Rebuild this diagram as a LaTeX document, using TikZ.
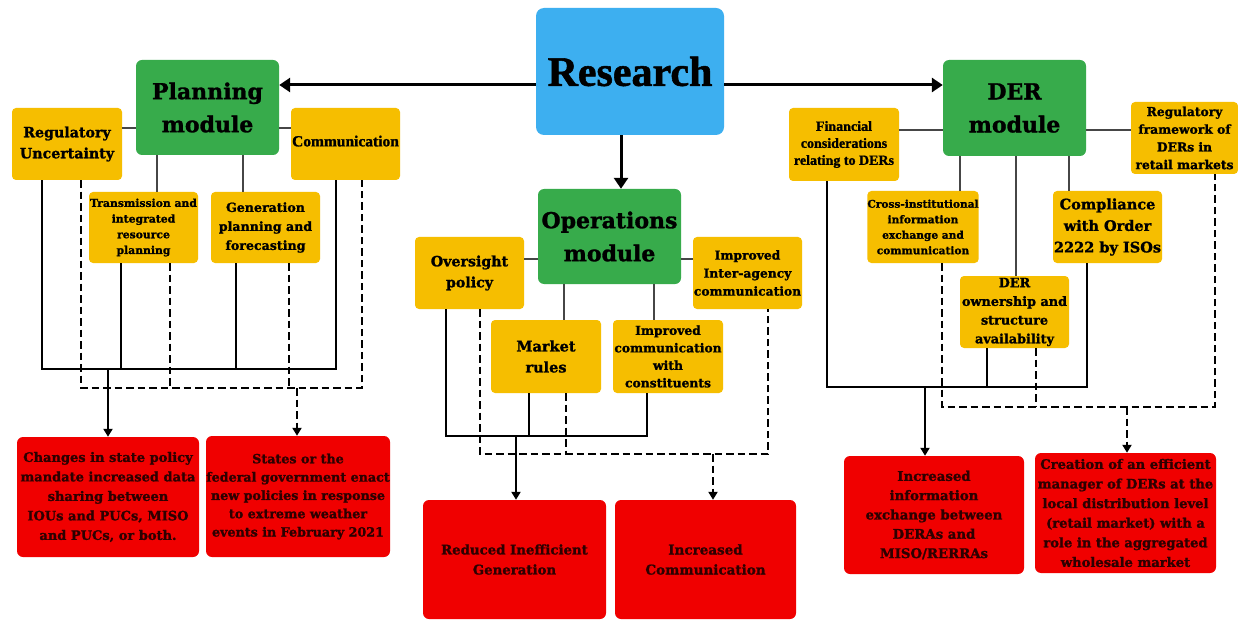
\documentclass[tikz,border=0pt]{standalone}
\usepackage{fontspec}
\setmainfont{DejaVu Serif}[BoldFeatures={FakeBold=1.3}]
\newfontfamily\tms{Liberation Serif}[BoldFeatures={FakeBold=1.3}]
\usetikzlibrary{arrows.meta}
\definecolor{yel}{RGB}{246,190,0}
\definecolor{grn}{RGB}{55,171,75}
\definecolor{blu}{RGB}{61,175,240}
\definecolor{rd}{RGB}{240,0,0}
\definecolor{rtext}{RGB}{45,0,0}
\definecolor{lnk}{RGB}{70,70,70}
\newcommand\fsz[2]{\fontsize{#1}{#2}\selectfont}
\begin{document}
\begin{tikzpicture}[x=1pt,y=-1pt,
  ybox/.style={fill=yel, rounded corners=4pt, align=center, inner sep=0pt, text=black, minimum width=109pt, minimum height=72pt},
  modbox/.style={fill=grn, rounded corners=6pt, align=center, inner sep=0pt, text=black, minimum width=143pt, minimum height=95pt, font=\bfseries\fsz{22}{33}},
  rbox/.style={fill=rd, rounded corners=6pt, align=center, inner sep=0pt, text=rtext, minimum width=182pt, minimum height=120pt},
  link/.style={draw=lnk, line width=1.3pt},
  bus/.style={draw=black, line width=2.4pt},
  dbus/.style={bus, dash pattern=on 7.5pt off 4pt},
  tip/.style={-{Triangle[length=8pt,width=9pt]}},
  big/.style={draw=black, line width=3pt, -{Triangle[length=11pt,width=14pt]}}
]
\useasboundingbox (0,0) rectangle (1238,620);
\fill[white] (0,0) rectangle (1238,620);

% ---------- main nodes
\node[fill=blu, rounded corners=8pt, minimum width=188pt, minimum height=127pt, inner sep=0pt, font=\tms\bfseries\fsz{42}{48}] (res) at (630,71.5) {Research};
\node[modbox] (plan) at (207.5,107.5) {Planning\\module};
\node[modbox, minimum height=96pt] (der) at (1014.5,108) {DER\\module};
\node[modbox] (ops) at (609.5,236.5) {Operations\\module};

% ---------- planning items
\node[ybox, minimum width=110pt, font=\bfseries\fsz{14.2}{21}] (regu) at (67,144) {Regulatory\\Uncertainty};
\node[ybox, font=\tms\bfseries\fsz{15.5}{18}] (comm) at (345.5,144) {\raisebox{6pt}{Communication}};
\node[ybox, minimum height=71pt, font=\bfseries\fsz{10.8}{15.7}] (trans) at (143.5,227.5) {Transmission and\\integrated\\resource\\planning};
\node[ybox, minimum height=71pt, font=\bfseries\fsz{12.6}{19}] (gen) at (265.5,227.5) {Generation\\planning and\\forecasting};

% ---------- operations items
\node[ybox, font=\bfseries\fsz{14.2}{21}] (over) at (469.5,273) {Oversight\\policy};
\node[ybox, font=\bfseries\fsz{12.3}{18}] (inter) at (747.5,273) {Improved\\Inter-agency\\communication};
\node[ybox, minimum width=110pt, minimum height=73pt, font=\bfseries\fsz{14.5}{21}] (mkt) at (546,356.5) {Market\\rules};
\node[ybox, minimum width=110pt, minimum height=73pt, font=\bfseries\fsz{12.3}{17.5}] (const) at (668,356.5) {Improved\\communication\\with\\constituents};

% ---------- DER items
\node[ybox, minimum width=110pt, minimum height=73pt, font=\tms\bfseries\fsz{14}{17}] (fin) at (844,144.5) {Financial\\considerations\\relating to DERs};
\node[ybox, minimum width=107pt, font=\bfseries\fsz{12.3}{17.7}] (regfw) at (1184.5,138) {Regulatory\\framework of\\DERs in\\retail markets};
\node[ybox, minimum width=110pt, font=\bfseries\fsz{10.6}{15.5}] (cross) at (923,227) {Cross-institutional\\information\\exchange and\\communication};
\node[ybox, font=\bfseries\fsz{14.5}{21.5}] (compl) at (1107.5,227) {Compliance\\with Order\\2222 by ISOs};
\node[ybox, font=\bfseries\fsz{12.8}{18.7}] (own) at (1014.5,312) {DER\\ownership and\\structure\\availability};

% ---------- outcomes
\node[rbox, font=\bfseries\fsz{13}{19.5}] (o1) at (108,497) {Changes in state policy\\mandate increased data\\sharing between\\IOUs and PUCs, MISO\\and PUCs, or both.};
\node[rbox, minimum width=184pt, minimum height=121pt, font=\bfseries\fsz{12.7}{18.3}] (o2) at (298,496.5) {States or the\\federal government enact\\new policies in response\\to extreme weather\\events in February 2021};
\node[rbox, minimum width=183pt, minimum height=119pt, font=\bfseries\fsz{13.3}{20}] (o3) at (514.5,559.5) {Reduced Inefficient\\Generation};
\node[rbox, minimum width=181pt, minimum height=119pt, font=\bfseries\fsz{13.5}{20}] (o4) at (705.5,559.5) {Increased\\Communication};
\node[rbox, minimum width=180pt, minimum height=118pt, font=\bfseries\fsz{13.3}{19.3}] (o5) at (934,515) {Increased\\information\\exchange between\\DERAs and\\MISO/RERRAs};
\node[rbox, minimum width=181pt, minimum height=120pt, font=\bfseries\fsz{13.1}{19.6}] (o6) at (1125.5,513) {Creation of an efficient\\manager of DERs at the\\local distribution level\\(retail market) with a\\role in the aggregated\\wholesale market};

% ---------- research arrows
\coordinate (rA) at (0,85);
\coordinate (rB) at (621,0);
\draw[big] (res.west |- rA) -- (plan.east |- rA);
\draw[big] (res.east |- rA) -- (der.west |- rA);
\draw[big] (res.south -| rB) -- (ops.north -| rB);

% ---------- planning links
\coordinate (pH) at (0,128);
\coordinate (pV1) at (157,0);
\coordinate (pV2) at (243,0);
\draw[link] (regu.east |- pH) -- (plan.west |- pH);
\draw[link] (plan.east |- pH) -- (comm.west |- pH);
\draw[link] (plan.south -| pV1) -- (trans.north -| pV1);
\draw[link] (plan.south -| pV2) -- (gen.north -| pV2);
\coordinate (pS1) at (42,369);  \coordinate (pS2) at (121,369);
\coordinate (pS3) at (236,369); \coordinate (pS4) at (336,369);
\coordinate (pSo) at (108,369);
\coordinate (pD1) at (81,388);  \coordinate (pD2) at (170,388);
\coordinate (pD3) at (289,388); \coordinate (pD4) at (362,388);
\coordinate (pDo) at (297,388);
\draw[bus] (regu.south -| pS1) -- (pS1) -- (pS4) -- (comm.south -| pS4);
\draw[bus] (trans.south -| pS2) -- (pS2);
\draw[bus] (gen.south -| pS3) -- (pS3);
\draw[bus,tip] (pSo) -- (o1.north -| pSo);
\draw[dbus] (regu.south -| pD1) -- (pD1) -- (pD4) -- (comm.south -| pD4);
\draw[dbus] (trans.south -| pD2) -- (pD2);
\draw[dbus] (gen.south -| pD3) -- (pD3);
\draw[dbus,tip] (pDo) -- (o2.north -| pDo);

% ---------- operations links
\coordinate (oH) at (0,259);
\coordinate (oV1) at (564,0);
\coordinate (oV2) at (654,0);
\draw[link] (over.east |- oH) -- (ops.west |- oH);
\draw[link] (ops.east |- oH) -- (inter.west |- oH);
\draw[link] (ops.south -| oV1) -- (mkt.north -| oV1);
\draw[link] (ops.south -| oV2) -- (const.north -| oV2);
\coordinate (oS1) at (446,436); \coordinate (oS2) at (529,436);
\coordinate (oS3) at (647,436); \coordinate (oSo) at (516,436);
\coordinate (oD1) at (480,454); \coordinate (oD2) at (566,454);
\coordinate (oD3) at (768,454); \coordinate (oDo) at (713,454);
\draw[bus] (over.south -| oS1) -- (oS1) -- (oS3) -- (const.south -| oS3);
\draw[bus] (mkt.south -| oS2) -- (oS2);
\draw[bus,tip] (oSo) -- (o3.north -| oSo);
\draw[dbus] (over.south -| oD1) -- (oD1) -- (oD3) -- (inter.south -| oD3);
\draw[dbus] (mkt.south -| oD2) -- (oD2);
\draw[dbus,tip] (oDo) -- (o4.north -| oDo);

% ---------- DER links
\coordinate (dH) at (0,130);
\coordinate (dV1) at (960,0);
\coordinate (dV2) at (1016,0);
\coordinate (dV3) at (1069,0);
\draw[link] (fin.east |- dH) -- (der.west |- dH);
\draw[link] (der.east |- dH) -- (regfw.west |- dH);
\draw[link] (der.south -| dV1) -- (cross.north -| dV1);
\draw[link] (der.south -| dV2) -- (own.north -| dV2);
\draw[link] (der.south -| dV3) -- (compl.north -| dV3);
\coordinate (dS1) at (827,387); \coordinate (dS2) at (987,387);
\coordinate (dS3) at (1087,387); \coordinate (dSo) at (925,387);
\coordinate (dD1) at (942,407); \coordinate (dD2) at (1036,407);
\coordinate (dD3) at (1215,407); \coordinate (dDo) at (1127,407);
\draw[bus] (fin.south -| dS1) -- (dS1) -- (dS3) -- (compl.south -| dS3);
\draw[bus] (own.south -| dS2) -- (dS2);
\draw[bus,tip] (dSo) -- (o5.north -| dSo);
\draw[dbus] (cross.south -| dD1) -- (dD1) -- (dD3) -- (regfw.south -| dD3);
\draw[dbus] (own.south -| dD2) -- (dD2);
\draw[dbus,tip] (dDo) -- (o6.north -| dDo);
\end{tikzpicture}
\end{document}
